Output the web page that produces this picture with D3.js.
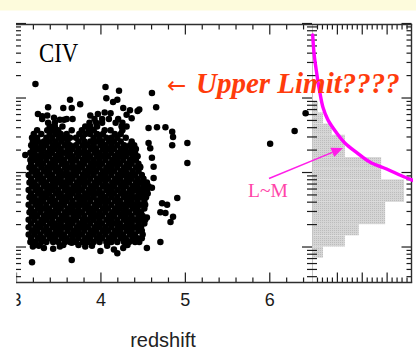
<!DOCTYPE html>
<html>
<head>
<meta charset="utf-8">
<script src="https://cdn.jsdelivr.net/npm/d3@7"></script>
<style>
  html, body { margin: 0; padding: 0; background: #ffffff; }
  svg { display: block; }
</style>
</head>
<body>
<svg id="chart" width="416" height="349"></svg>
<script>
// ---- CIV quasar sample: black-hole mass (log10 M) against redshift ----
// Dense part of the sample, one list of redshifts per mass row.
const cloudLogM = [8.06, 8.11, 8.16, 8.21, 8.26, 8.31, 8.36, 8.41, 8.46, 8.51,
                   8.56, 8.61, 8.66, 8.71, 8.76, 8.81, 8.86, 8.91, 8.96, 9.01,
                   9.06, 9.11, 9.16, 9.21, 9.26, 9.31, 9.36, 9.41, 9.46, 9.51,
                   9.56, 9.61, 9.66, 9.71];
const cloudZ = [
  [3.17,3.23,3.30,3.36,3.44,3.50,3.58,3.64,3.71,3.79,3.85,3.92,3.99,4.07,4.13,4.20,4.28,4.34,4.41,4.46],
  [3.18,3.26,3.32,3.40,3.46,3.54,3.60,3.67,3.74,3.82,3.88,3.96,4.02,4.10,4.16,4.24,4.30,4.38,4.44,4.49],
  [3.15,3.22,3.29,3.37,3.43,3.50,3.57,3.65,3.71,3.78,3.86,3.92,3.99,4.06,4.14,4.20,4.27,4.35,4.41,4.50],
  [3.19,3.25,3.33,3.39,3.47,3.53,3.61,3.68,3.74,3.81,3.89,3.95,4.03,4.09,4.17,4.23,4.31,4.37,4.45,4.49],
  [3.15,3.23,3.29,3.36,3.44,3.50,3.57,3.64,3.72,3.78,3.85,3.93,3.99,4.06,4.13,4.21,4.27,4.34,4.41,4.48],
  [3.18,3.26,3.32,3.40,3.46,3.53,3.61,3.67,3.75,3.81,3.88,3.96,4.02,4.10,4.16,4.23,4.31,4.37,4.45,4.52],
  [3.15,3.22,3.30,3.36,3.43,3.51,3.57,3.64,3.71,3.79,3.85,3.92,3.99,4.07,4.13,4.20,4.28,4.34,4.41,4.48,4.53],
  [3.19,3.25,3.33,3.40,3.46,3.54,3.60,3.68,3.74,3.81,3.89,3.95,4.02,4.10,4.16,4.24,4.30,4.37,4.45,4.50],
  [3.16,3.22,3.29,3.37,3.43,3.50,3.58,3.64,3.71,3.78,3.86,3.92,3.99,4.06,4.14,4.20,4.27,4.34,4.42,4.48],
  [3.18,3.26,3.33,3.39,3.47,3.53,3.61,3.67,3.74,3.82,3.88,3.95,4.03,4.09,4.17,4.23,4.30,4.38,4.44,4.52],
  [3.15,3.23,3.29,3.36,3.44,3.50,3.57,3.65,3.71,3.78,3.85,3.93,3.99,4.06,4.13,4.21,4.27,4.34,4.41,4.48,4.53],
  [3.19,3.25,3.32,3.40,3.46,3.54,3.60,3.67,3.75,3.81,3.88,3.96,4.02,4.09,4.17,4.23,4.31,4.37,4.44,4.52],
  [3.16,3.22,3.30,3.36,3.43,3.51,3.57,3.64,3.72,3.78,3.85,3.92,4.00,4.06,4.13,4.20,4.28,4.34,4.41,4.48,4.54],
  [3.18,3.26,3.32,3.39,3.47,3.53,3.61,3.67,3.74,3.82,3.88,3.95,4.02,4.10,4.16,4.24,4.30,4.37,4.45,4.51,4.56],
  [3.15,3.23,3.29,3.37,3.43,3.50,3.58,3.64,3.71,3.78,3.86,3.92,3.99,4.07,4.13,4.20,4.27,4.35,4.41,4.48,4.55],
  [3.19,3.25,3.33,3.40,3.46,3.54,3.60,3.68,3.74,3.81,3.89,3.95,4.03,4.09,4.16,4.24,4.30,4.38,4.44,4.51,4.57],
  [3.16,3.22,3.30,3.36,3.44,3.50,3.57,3.64,3.72,3.78,3.85,3.93,3.99,4.06,4.14,4.20,4.27,4.34,4.42,4.48,4.55],
  [3.18,3.26,3.32,3.40,3.46,3.53,3.61,3.67,3.75,3.81,3.88,3.96,4.02,4.09,4.17,4.23,4.31,4.37,4.44,4.51],
  [3.15,3.23,3.29,3.37,3.43,3.51,3.57,3.64,3.71,3.79,3.85,3.92,4.00,4.06,4.13,4.21,4.27,4.34,4.41,4.49],
  [3.19,3.25,3.33,3.39,3.47,3.53,3.60,3.68,3.74,3.82,3.88,3.95,4.03,4.09,4.16,4.24,4.30,4.38,4.45],
  [3.16,3.22,3.30,3.37,3.43,3.50,3.58,3.64,3.71,3.78,3.86,3.92,3.99,4.07,4.13,4.20,4.28,4.34,4.42,4.47],
  [3.18,3.26,3.32,3.40,3.46,3.54,3.60,3.67,3.75,3.81,3.89,3.95,4.02,4.10,4.16,4.23,4.31,4.37,4.45],
  [3.17,3.23,3.29,3.36,3.44,3.50,3.57,3.65,3.71,3.79,3.85,3.92,3.99,4.06,4.14,4.20,4.27,4.35,4.42],
  [3.19,3.26,3.33,3.39,3.47,3.53,3.61,3.67,3.74,3.82,3.88,3.96,4.02,4.09,4.17,4.23,4.30,4.38,4.44],
  [3.17,3.22,3.30,3.37,3.43,3.51,3.57,3.64,3.72,3.78,3.85,3.93,3.99,4.06,4.13,4.21,4.27,4.34,4.41],
  [3.20,3.26,3.32,3.40,3.46,3.53,3.61,3.67,3.74,3.81,3.89,3.95,4.03,4.09,4.16,4.24,4.30,4.37,4.42],
  [3.18,3.23,3.30,3.36,3.44,3.50,3.58,3.64,3.71,3.79,3.85,3.92,4.00,4.06,4.13,4.20,4.28,4.35,4.40],
  [3.20,3.26,3.33,3.40,3.47,3.54,3.61,3.74,3.81,3.88,3.95,4.02,4.10,4.16,4.24,4.37],
  [3.19,3.25,3.36,3.43,3.51,3.57,3.64,3.71,3.79,3.92,3.99,4.07,4.13,4.20,4.30],
  [3.21,3.30,3.40,3.47,3.53,3.60,3.75,3.82,3.88,3.96,4.03,4.17,4.24],
  [3.25,3.37,3.44,3.50,3.66,3.78,3.86,3.92,4.05,4.12,4.26],
  [3.40,3.46,3.55,3.82,3.88,3.96,4.25,4.31],
  [3.38,3.46,3.87,3.95,4.02,4.18,4.26],
  [3.31,3.60,3.67,3.93,4.02,4.10,4.21]
];
// Sparse objects around the edges of the sample: [redshift, log10 M]
const sparseQuasars = [
  [3.20,8.00],[3.27,8.01],[3.33,7.98],[3.44,7.97],[3.52,8.00],[3.56,8.02],[3.66,8.05],
  [3.74,8.02],[3.82,8.00],[3.90,8.01],[4.00,7.94],[4.08,8.01],[4.16,7.96],[4.20,7.91],
  [4.27,7.98],[4.32,8.02],[4.41,8.09],[3.19,7.79],[3.66,7.82],[4.71,8.06],[4.55,7.98],
  [4.86,8.40],[4.83,8.33],[4.55,8.39],[4.71,8.46],[4.77,8.45],[4.73,8.58],[4.79,8.56],
  [4.91,8.65],[4.61,8.79],[4.63,8.92],[4.63,9.07],[4.47,9.07],[5.03,9.12],[4.61,9.19],
  [4.59,9.32],[4.57,9.39],[4.85,9.36],[5.03,9.39],[4.86,9.47],[4.85,9.54],[4.57,9.59],
  [4.67,9.60],[4.77,9.60],[3.11,9.23],
  [3.23,10.18],[4.06,10.14],[4.22,10.09],[4.61,10.06],[4.07,9.99],[4.15,9.94],[4.20,9.97],
  [3.64,9.97],[3.66,9.86],[3.56,9.86],[3.38,9.87],[3.76,9.91],[4.27,9.86],[4.35,9.83],
  [4.46,9.84],[4.66,9.87],[3.26,9.78],[3.31,9.75],[3.37,9.76],[3.45,9.73],[3.52,9.70],
  [3.57,9.70],[3.88,9.76],[3.97,9.78],[4.05,9.80],[4.12,9.79],[4.31,9.77],[4.37,9.72],
  [4.44,9.82],
  [6.01,9.38],[6.30,9.55],[6.43,9.79]
];

// Mass histogram: lower bin edges (log10 M, 0.15 dex wide) and counts
const histBinLogM = [7.85, 8.00, 8.15, 8.30, 8.45, 8.60, 8.75, 8.90, 9.05, 9.20, 9.35, 9.50, 9.65, 9.80];
const histCounts  = [22,   66,   94,   147,  147,  185,  185,  139,  139,  66,   66,   40,   22,   12];
const histBinWidth = 0.15;

// Sketched upper-limit envelope drawn over the histogram (count, log10 M)
const limitCount = [1.4, 4, 9.4, 16, 22, 32, 50, 66, 90, 117, 150, 180, 204];
const limitLogM  = [10.84, 10.60, 10.33, 10.06, 9.87, 9.70, 9.52, 9.39, 9.26, 9.13, 9.04, 8.95, 8.885];

// Axis labels
const redshiftTickLabels = [3, 4, 5, 6];
const massDecades = [8, 9, 10, 11];

// ---- layout ----
const svg = d3.select("#chart");
const plotTop = 24.5, plotBottom = 282.5;
const plotLeft = 16, panelSplit = 312, plotRight = 411.5;

const x = d3.scaleLinear().domain([3, 6.5]).range([plotLeft, panelSplit - 0.5]);
const y = d3.scaleLog().domain([Math.pow(10, 7.517), Math.pow(10, 10.98)]).range([plotBottom, plotTop]);
const xh = d3.scaleLinear().domain([0, 200]).range([panelSplit, plotRight]);
const yM = v => y(Math.pow(10, v));

// pale band along the top edge
svg.append("rect").attr("x", 0).attr("y", 0).attr("width", 416).attr("height", 10.5)
  .attr("fill", "#fdfbdc");

const defs = svg.append("defs");
defs.append("clipPath").attr("id", "clipLeft")
  .append("rect").attr("x", plotLeft + 0.5).attr("y", -20).attr("width", 416).attr("height", 100);
defs.append("clipPath").attr("id", "clipFrame")
  .append("rect").attr("x", plotLeft).attr("y", plotTop).attr("width", plotRight + 1.5 - plotLeft).attr("height", plotBottom - plotTop);
const pat = defs.append("pattern").attr("id", "stipple")
  .attr("patternUnits", "userSpaceOnUse").attr("width", 2).attr("height", 2);
pat.append("rect").attr("width", 2).attr("height", 2).attr("fill", "#d5d5d5");
pat.append("rect").attr("width", 1).attr("height", 1).attr("fill", "#bcbcbc");

// ---- histogram of masses (horizontal bars) ----
svg.append("g").selectAll("rect").data(histBinLogM).join("rect")
  .attr("x", xh(0))
  .attr("y", (d) => yM(d + histBinWidth))
  .attr("width", (d, i) => xh(histCounts[i]) - xh(0))
  .attr("height", (d) => yM(d) - yM(d + histBinWidth))
  .attr("fill", "url(#stipple)");

// light divider between the two panels
svg.append("line").attr("x1", panelSplit + 0.5).attr("x2", panelSplit + 0.5)
  .attr("y1", plotTop).attr("y2", plotBottom).attr("stroke", "#c4c4c4").attr("stroke-width", 1);

// ---- axes ----
const tickColor = "#1c1c1c";
function styleAxis(g) {
  g.select(".domain").remove();
  g.selectAll(".tick line").attr("stroke", tickColor).attr("stroke-width", 1.2);
}
const zMinor = d3.range(3.2, 6.45, 0.2).filter(v => Math.abs(v - Math.round(v)) > 0.01);
const zMajor = redshiftTickLabels;
const mMinor = y.ticks().filter(v => Math.abs(Math.log10(v) - Math.round(Math.log10(v))) > 1e-6);
const mMajor = massDecades.map(d => Math.pow(10, d)).filter(v => v >= y.domain()[0] && v <= y.domain()[1] * 1.05);
const cMinor = d3.range(10, 200, 10).filter(v => v % 50 !== 0);
const cMajor = [50, 100, 150];

// top edge, ticks pointing down
svg.append("g").attr("transform", `translate(0,${plotTop})`)
  .call(d3.axisBottom(x).tickValues(zMinor).tickSize(5).tickFormat("")).call(styleAxis);
svg.append("g").attr("transform", `translate(0,${plotTop})`)
  .call(d3.axisBottom(x).tickValues(zMajor.filter(v => v > 3)).tickSize(10).tickFormat("")).call(styleAxis);
svg.append("g").attr("transform", `translate(0,${plotTop})`)
  .call(d3.axisBottom(xh).tickValues(cMinor).tickSize(5).tickFormat("")).call(styleAxis);
svg.append("g").attr("transform", `translate(0,${plotTop})`)
  .call(d3.axisBottom(xh).tickValues(cMajor).tickSize(10).tickFormat("")).call(styleAxis);

// bottom edge, ticks pointing up, redshift labels below
svg.append("g").attr("transform", `translate(0,${plotBottom})`)
  .call(d3.axisBottom(x).tickValues(zMinor).tickSize(-5).tickFormat("")).call(styleAxis);
const bottomMajor = svg.append("g").attr("transform", `translate(0,${plotBottom})`)
  .attr("clip-path", "url(#clipLeft)")
  .call(d3.axisBottom(x).tickValues(zMajor).tickSize(-10).tickPadding(11).tickFormat(d3.format("d")))
  .call(styleAxis);
bottomMajor.selectAll(".tick text")
  .attr("font-family", "'Liberation Sans', Arial, sans-serif").attr("font-size", 18).attr("fill", "#1a1a1a");
svg.append("g").attr("transform", `translate(0,${plotBottom})`)
  .call(d3.axisBottom(xh).tickValues(cMinor).tickSize(-5).tickFormat("")).call(styleAxis);
svg.append("g").attr("transform", `translate(0,${plotBottom})`)
  .call(d3.axisBottom(xh).tickValues(cMajor).tickSize(-10).tickFormat("")).call(styleAxis);

// left edge of the scatter panel, ticks pointing right
svg.append("g").attr("transform", `translate(${plotLeft},0)`)
  .call(d3.axisRight(y).tickValues(mMinor).tickSize(5).tickFormat("")).call(styleAxis);
svg.append("g").attr("transform", `translate(${plotLeft},0)`)
  .call(d3.axisRight(y).tickValues(mMajor).tickSize(10).tickFormat("")).call(styleAxis);
// shared edge between panels
svg.append("g").attr("transform", `translate(${panelSplit},0)`)
  .call(d3.axisLeft(y).tickValues(mMinor).tickSize(5).tickFormat("")).call(styleAxis);
svg.append("g").attr("transform", `translate(${panelSplit},0)`)
  .call(d3.axisLeft(y).tickValues(mMajor).tickSize(10).tickFormat("")).call(styleAxis);
svg.append("g").attr("transform", `translate(${panelSplit},0)`)
  .call(d3.axisRight(y).tickValues(mMinor).tickSize(5).tickFormat("")).call(styleAxis);
// right edge of the histogram panel
svg.append("g").attr("transform", `translate(${plotRight},0)`)
  .call(d3.axisLeft(y).tickValues(mMinor).tickSize(5).tickFormat("")).call(styleAxis);
svg.append("g").attr("transform", `translate(${plotRight},0)`)
  .call(d3.axisLeft(y).tickValues(mMajor).tickSize(10).tickFormat("")).call(styleAxis);

// frame lines
const frame = svg.append("g").attr("stroke", "#2e2e2e").attr("stroke-width", 1.4);
frame.append("line").attr("x1", plotLeft).attr("x2", plotRight + 0.7).attr("y1", plotTop).attr("y2", plotTop);
frame.append("line").attr("x1", plotLeft).attr("x2", plotRight + 0.7).attr("y1", plotBottom).attr("y2", plotBottom);
frame.append("line").attr("x1", plotRight).attr("x2", plotRight).attr("y1", plotTop).attr("y2", plotBottom);

// ---- quasars ----
const points = [];
cloudLogM.forEach((m, i) => cloudZ[i].forEach(z => points.push([z, m])));
sparseQuasars.forEach(p => points.push(p));
svg.append("g").selectAll("circle").data(points).join("circle")
  .attr("cx", d => x(d[0]))
  .attr("cy", d => yM(d[1]))
  .attr("r", 3.25)
  .attr("fill", "#000");

// ---- upper-limit envelope ----
const limitPts = limitCount.map((c, i) => [xh(c), yM(limitLogM[i])]);
svg.append("path")
  .attr("clip-path", "url(#clipFrame)")
  .attr("d", d3.line().curve(d3.curveCatmullRom.alpha(0.5))(limitPts))
  .attr("fill", "none").attr("stroke", "#ff00ff").attr("stroke-width", 3.4)
  .attr("stroke-linecap", "round");

// ---- annotations ----
svg.append("text").attr("transform", "translate(39,61.5) scale(0.83,1)")
  .attr("font-family", "'Liberation Serif', 'Times New Roman', serif")
  .attr("font-size", 27.5).attr("fill", "#000").text("CIV");

const ul = svg.append("text").attr("x", 167).attr("y", 92.5).attr("fill", "#ff3c0c");
ul.append("tspan").attr("font-family", "'DejaVu Sans', sans-serif").attr("font-size", 23)
  .text("←");
ul.append("tspan").attr("x", 196).attr("font-family", "'Liberation Serif', 'Times New Roman', serif")
  .attr("font-size", 29).attr("font-weight", "bold").attr("font-style", "italic")
  .text("Upper Limit????");

// L~M arrow
const arrowColor = "#ff1ee8";
const a0 = [269, 178.5], a1 = [343, 148];
const ang = Math.atan2(a1[1] - a0[1], a1[0] - a0[0]);
const hl = 11.5, hw = 5;
const bx = a1[0] - hl * Math.cos(ang), by = a1[1] - hl * Math.sin(ang);
svg.append("line").attr("x1", a0[0]).attr("y1", a0[1]).attr("x2", bx).attr("y2", by)
  .attr("stroke", arrowColor).attr("stroke-width", 1.5);
svg.append("path")
  .attr("d", `M${a1[0]},${a1[1]}L${bx + hw * Math.sin(ang)},${by - hw * Math.cos(ang)}L${bx - hw * Math.sin(ang)},${by + hw * Math.cos(ang)}Z`)
  .attr("fill", arrowColor);
svg.append("text").attr("x", 248).attr("y", 196.5)
  .attr("font-family", "'Liberation Serif', 'Times New Roman', serif")
  .attr("font-size", 19.5).attr("fill", "#ff45a8").text("L~M");

// axis title
svg.append("text").attr("x", 163).attr("y", 346.5).attr("text-anchor", "middle")
  .attr("font-family", "'Liberation Sans', Arial, sans-serif")
  .attr("font-size", 20).attr("fill", "#222").text("redshift");
</script>
</body>
</html>
